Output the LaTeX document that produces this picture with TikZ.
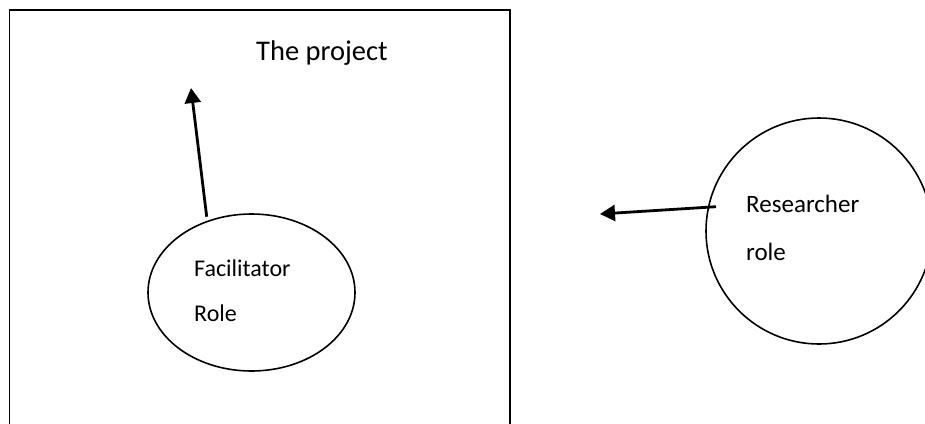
\documentclass[tikz,border=0pt]{standalone}
\usepackage{fontspec}
\setmainfont{Carlito}
\usetikzlibrary{shapes.geometric,arrows.meta}
\tikzset{
  frame/.style={draw=black,line width=1.6pt},
  rolebubble/.style={draw=black,line width=1.6pt,inner sep=0pt},
  pointer/.style={line width=2.8pt,-{Triangle[length=15pt,width=16pt]}},
  label/.style={anchor=base west,inner sep=0pt},
}
\begin{document}
\begin{tikzpicture}[x=1pt,y=-1pt]
  \useasboundingbox (0,0) rectangle (925,423);
  \clip (0,0) rectangle (925,423);
  % the project frame (its lower edge runs below the page)
  \node[frame,rectangle,minimum width=500.5pt,minimum height=440pt,anchor=north west] (project) at (8.5,9) {};
  \node[label,font=\fontsize{28.5}{30}\selectfont] (ptitle) at (256,60.7) {The project};
  % facilitator role inside the project
  \node[rolebubble,ellipse,minimum width=207pt,minimum height=157pt] (fac) at (251.5,292.5) {};
  \node[label,font=\fontsize{24}{26}\selectfont] (facA) at (194,276) {Facilitator};
  \node[label,font=\fontsize{24}{26}\selectfont] (facB) at (194,321) {Role};
  % researcher role outside the project
  \node[rolebubble,circle,minimum size=226pt] (res) at (819,231) {};
  \node[label,font=\fontsize{25}{27}\selectfont] (resA) at (746,212.7) {Researcher};
  \node[label,font=\fontsize{25}{27}\selectfont] (resB) at (746,260.7) {role};
  % arrow ends
  \coordinate (ftail) at (206.7,216.7);
  \coordinate (ftip) at (191,88);
  \coordinate (rtail) at (716,206.7);
  \coordinate (rtip) at (600,214);
  \draw[pointer] (ftail) -- (ftip);
  \draw[pointer] (rtail) -- (rtip);
\end{tikzpicture}
\end{document}
